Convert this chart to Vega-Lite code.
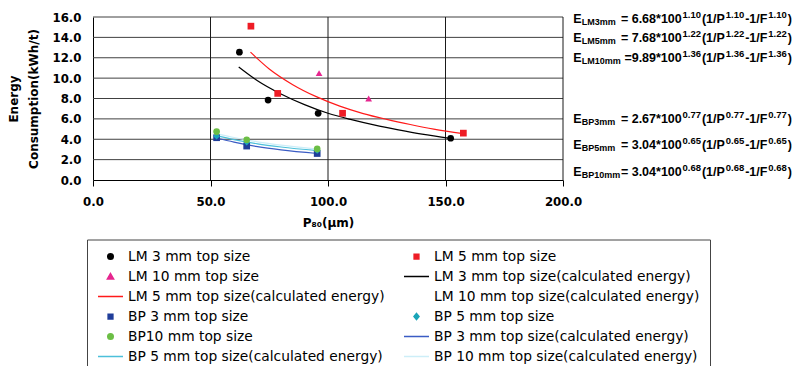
{
  "$schema": "https://vega.github.io/schema/vega-lite/v6.json",
  "width": 470,
  "height": 163,
  "autosize": {"type": "none"},
  "padding": {"left": 93, "top": 17, "right": 232, "bottom": 186},
  "background": "white",
  "config": {
    "view": {"stroke": null},
    "numberFormat": ".1f",
    "axis": {"grid": false, "domain": true, "domainColor": "#000", "labelFlush": false, "labelOverlap": false,
             "labelFont": "DejaVu Sans", "labelFontWeight": "bold", "labelFontSize": 11.75, "labelColor": "#000",
             "titleFont": "DejaVu Sans", "titleFontWeight": "bold", "titleFontSize": 12, "titleColor": "#000"},
    "axisX": {"ticks": true, "tickSize": 6, "tickColor": "#000", "labelPadding": 10, "titlePadding": 10},
    "axisY": {"ticks": false, "labelPadding": 12},
    "rule": {"strokeWidth": 1},
    "text": {"font": "Liberation Sans", "fontWeight": "bold", "color": "#000", "baseline": "alphabetic", "align": "left"}
  },
  "datasets": {
    "pts": [
      {"series": "LM 3 mm top size", "P": 62.3, "E": 12.55},
      {"series": "LM 3 mm top size", "P": 74.5, "E": 7.85},
      {"series": "LM 3 mm top size", "P": 95.8, "E": 6.55},
      {"series": "LM 3 mm top size", "P": 152.2, "E": 4.1},
      {"series": "LM 5 mm top size", "P": 67.2, "E": 15.1},
      {"series": "LM 5 mm top size", "P": 78.6, "E": 8.5},
      {"series": "LM 5 mm top size", "P": 106.2, "E": 6.55},
      {"series": "LM 5 mm top size", "P": 157.6, "E": 4.6},
      {"series": "LM 10 mm top size", "P": 96.2, "E": 10.5},
      {"series": "LM 10 mm top size", "P": 117.3, "E": 8.0},
      {"series": "BP 3 mm top size", "P": 52.6, "E": 4.15},
      {"series": "BP 3 mm top size", "P": 65.4, "E": 3.33},
      {"series": "BP 3 mm top size", "P": 95.4, "E": 2.6},
      {"series": "BP 5 mm top size", "P": 52.6, "E": 4.3},
      {"series": "BP 5 mm top size", "P": 65.4, "E": 3.72},
      {"series": "BP 5 mm top size", "P": 95.4, "E": 2.9},
      {"series": "BP10 mm top size", "P": 52.6, "E": 4.75},
      {"series": "BP10 mm top size", "P": 65.4, "E": 3.95},
      {"series": "BP10 mm top size", "P": 95.4, "E": 3.05}
    ],
    "lines": [
      {"series": "LM 3 mm top size(calculated energy)", "P": 62, "E": 11.1},
      {"series": "LM 3 mm top size(calculated energy)", "P": 70, "E": 9.75},
      {"series": "LM 3 mm top size(calculated energy)", "P": 80, "E": 8.45},
      {"series": "LM 3 mm top size(calculated energy)", "P": 90, "E": 7.4},
      {"series": "LM 3 mm top size(calculated energy)", "P": 100, "E": 6.55},
      {"series": "LM 3 mm top size(calculated energy)", "P": 110, "E": 5.92},
      {"series": "LM 3 mm top size(calculated energy)", "P": 120, "E": 5.38},
      {"series": "LM 3 mm top size(calculated energy)", "P": 130, "E": 4.92},
      {"series": "LM 3 mm top size(calculated energy)", "P": 140, "E": 4.5},
      {"series": "LM 3 mm top size(calculated energy)", "P": 152, "E": 4.08},
      {"series": "LM 5 mm top size(calculated energy)", "P": 67, "E": 12.55},
      {"series": "LM 5 mm top size(calculated energy)", "P": 75, "E": 10.9},
      {"series": "LM 5 mm top size(calculated energy)", "P": 85, "E": 9.36},
      {"series": "LM 5 mm top size(calculated energy)", "P": 95, "E": 8.18},
      {"series": "LM 5 mm top size(calculated energy)", "P": 105, "E": 7.25},
      {"series": "LM 5 mm top size(calculated energy)", "P": 115, "E": 6.52},
      {"series": "LM 5 mm top size(calculated energy)", "P": 125, "E": 5.95},
      {"series": "LM 5 mm top size(calculated energy)", "P": 135, "E": 5.45},
      {"series": "LM 5 mm top size(calculated energy)", "P": 145, "E": 5.0},
      {"series": "LM 5 mm top size(calculated energy)", "P": 157.5, "E": 4.55},
      {"series": "BP 3 mm top size(calculated energy)", "P": 52.5, "E": 4.12},
      {"series": "BP 3 mm top size(calculated energy)", "P": 60, "E": 3.72},
      {"series": "BP 3 mm top size(calculated energy)", "P": 70, "E": 3.27},
      {"series": "BP 3 mm top size(calculated energy)", "P": 80, "E": 2.95},
      {"series": "BP 3 mm top size(calculated energy)", "P": 95.5, "E": 2.6},
      {"series": "BP 5 mm top size(calculated energy)", "P": 52.5, "E": 4.35},
      {"series": "BP 5 mm top size(calculated energy)", "P": 60, "E": 3.97},
      {"series": "BP 5 mm top size(calculated energy)", "P": 70, "E": 3.55},
      {"series": "BP 5 mm top size(calculated energy)", "P": 80, "E": 3.24},
      {"series": "BP 5 mm top size(calculated energy)", "P": 95.5, "E": 2.88},
      {"series": "BP 10 mm top size(calculated energy)", "P": 52.5, "E": 4.55},
      {"series": "BP 10 mm top size(calculated energy)", "P": 60, "E": 4.17},
      {"series": "BP 10 mm top size(calculated energy)", "P": 70, "E": 3.75},
      {"series": "BP 10 mm top size(calculated energy)", "P": 80, "E": 3.42},
      {"series": "BP 10 mm top size(calculated energy)", "P": 95.5, "E": 3.03}
    ],
    "eqLM": [
      {"sub": ["LM3mm", "LM5mm", "LM10mm"], "mid": [" = 6.68*100", " = 7.68*100", "=9.89*100"], "exp": ["1.10", "1.22", "1.36"]}
    ],
    "eqBP": [
      {"sub": ["BP3mm", "BP5mm", "BP10mm"], "mid": [" = 2.67*100", " = 3.04*100", " = 3.04*100"], "exp": ["0.77", "0.65", "0.68"]}
    ]
  },
  "layer": [
    {"data": {"name": "eqLM"}, "mark": {"type": "rule", "color": "#404040"}, "encoding": {"y": {"datum": 2, "type": "quantitative"}}},
    {"data": {"name": "eqLM"}, "mark": {"type": "rule", "color": "#404040"}, "encoding": {"y": {"datum": 4, "type": "quantitative"}}},
    {"data": {"name": "eqLM"}, "mark": {"type": "rule", "color": "#404040"}, "encoding": {"y": {"datum": 6, "type": "quantitative"}}},
    {"data": {"name": "eqLM"}, "mark": {"type": "rule", "color": "#404040"}, "encoding": {"y": {"datum": 8, "type": "quantitative"}}},
    {"data": {"name": "eqLM"}, "mark": {"type": "rule", "color": "#404040"}, "encoding": {"y": {"datum": 10, "type": "quantitative"}}},
    {"data": {"name": "eqLM"}, "mark": {"type": "rule", "color": "#404040"}, "encoding": {"y": {"datum": 12, "type": "quantitative"}}},
    {"data": {"name": "eqLM"}, "mark": {"type": "rule", "color": "#404040"}, "encoding": {"y": {"datum": 14, "type": "quantitative"}}},
    {"data": {"name": "eqLM"}, "mark": {"type": "rule", "color": "#404040"}, "encoding": {"y": {"datum": 16, "type": "quantitative"}}},
    {"data": {"name": "eqLM"}, "mark": {"type": "rule", "color": "#1a1a1a"}, "encoding": {"x": {"datum": 50, "type": "quantitative"}}},
    {"data": {"name": "eqLM"}, "mark": {"type": "rule", "color": "#1a1a1a"}, "encoding": {"x": {"datum": 100, "type": "quantitative"}}},
    {"data": {"name": "eqLM"}, "mark": {"type": "rule", "color": "#1a1a1a"}, "encoding": {"x": {"datum": 150, "type": "quantitative"}}},
    {"data": {"name": "eqLM"}, "mark": {"type": "rule", "color": "#1a1a1a"}, "encoding": {"x": {"datum": 200, "type": "quantitative"}}},
    {
      "data": {"name": "lines"},
      "mark": {"type": "line", "interpolate": "monotone", "strokeWidth": 1.2},
      "encoding": {
        "x": {
          "field": "P", "type": "quantitative",
          "scale": {"domain": [0, 200], "nice": false},
          "axis": {"values": [0, 50, 100, 150, 200], "tickCount": 20, "format": ".1f", "title": "P₈₀(µm)"}
        },
        "y": {
          "field": "E", "type": "quantitative",
          "scale": {"domain": [0, 16], "nice": false},
          "axis": {
            "values": [0, 2, 4, 6, 8, 10, 12, 14, 16], "tickCount": 20, "format": ".1f",
            "title": ["Energy", "Consumption(kWh/t)"],
            "titleLineHeight": 20, "titleX": -85, "titleY": 81.5, "titleBaseline": "top", "titleAlign": "center", "titleAngle": -90
          }
        },
        "color": {
          "field": "series", "type": "nominal",
          "scale": {
            "domain": ["LM 3 mm top size", "LM 5 mm top size", "LM 10 mm top size", "LM 3 mm top size(calculated energy)", "LM 5 mm top size(calculated energy)", "LM 10 mm top size(calculated energy)", "BP 3 mm top size", "BP 5 mm top size", "BP10 mm top size", "BP 3 mm top size(calculated energy)", "BP 5 mm top size(calculated energy)", "BP 10 mm top size(calculated energy)"],
            "range": ["#000000", "#EE1C25", "#E6268F", "#000000", "#FF1A1A", "#FFFFFF", "#1F3D99", "#1BA5B8", "#6CBE45", "#3B5CC4", "#4CC0DA", "#CDEEF8"]
          },
          "legend": {
            "title": null, "orient": "none", "legendX": -6, "legendY": 222.5,
            "direction": "horizontal", "columns": 2, "columnPadding": 18, "rowPadding": 6,
            "padding": 10, "strokeColor": "#444", "fillColor": "white",
            "labelFont": "DejaVu Sans", "labelFontSize": 13.8, "labelColor": "#000", "labelLimit": 400, "labelOffset": 4,
            "symbolSize": 625, "symbolStrokeWidth": 1.5, "clipHeight": 14, "symbolOpacity": 1,
            "encode": {
              "symbols": {
                "update": {
                  "shape": [
                    {"test": "datum.value === 'LM 3 mm top size' || datum.value === 'BP10 mm top size'", "value": "M0.22,0A0.22,0.22,0,1,1,-0.22,0A0.22,0.22,0,1,1,0.22,0Z"},
                    {"test": "datum.value === 'LM 5 mm top size' || datum.value === 'BP 3 mm top size'", "value": "M-0.19,-0.19H0.19V0.19H-0.19Z"},
                    {"test": "datum.value === 'LM 10 mm top size'", "value": "M0,-0.24L0.25,0.2L-0.25,0.2Z"},
                    {"test": "datum.value === 'BP 5 mm top size'", "value": "M0,-0.24L0.2,0L0,0.24L-0.2,0Z"},
                    {"value": "stroke"}
                  ],
                  "fill": [
                    {"test": "indexof(datum.value, 'calculated') >= 0", "value": "transparent"},
                    {"scale": "color", "field": "value"}
                  ],
                  "stroke": {"scale": "color", "field": "value"},
                  "opacity": {"value": 1}
                }
              }
            }
          }
        }
      }
    },
    {
      "data": {"name": "pts"},
      "mark": {"type": "point", "filled": true, "opacity": 1, "size": 45},
      "encoding": {
        "x": {"field": "P", "type": "quantitative"},
        "y": {"field": "E", "type": "quantitative"},
        "color": {"field": "series", "type": "nominal"},
        "shape": {
          "field": "series", "type": "nominal",
          "scale": {
            "domain": ["LM 3 mm top size", "LM 5 mm top size", "LM 10 mm top size", "BP 3 mm top size", "BP 5 mm top size", "BP10 mm top size"],
            "range": ["circle", "square", "triangle-up", "square", "diamond", "circle"]
          },
          "legend": null
        }
      }
    },
    {"data": {"name": "eqLM"}, "mark": {"type": "text", "text": ["E", "E", "E"], "fontSize": 12.5, "lineHeight": 19.65},
     "encoding": {"x": {"datum": 204.4, "type": "quantitative"}, "y": {"datum": 15.44, "type": "quantitative"}}},
    {"data": {"name": "eqLM"}, "mark": {"type": "text", "fontSize": 9, "lineHeight": 19.65, "dx": 8.3, "dy": 2},
     "encoding": {"x": {"datum": 204.4, "type": "quantitative"}, "y": {"datum": 15.44, "type": "quantitative"}, "text": {"field": "sub", "type": "nominal"}}},
    {"data": {"name": "eqLM"}, "mark": {"type": "text", "align": "right", "fontSize": 12.5, "lineHeight": 19.65, "dx": 108.4},
     "encoding": {"x": {"datum": 204.4, "type": "quantitative"}, "y": {"datum": 15.44, "type": "quantitative"}, "text": {"field": "mid", "type": "nominal"}}},
    {"data": {"name": "eqLM"}, "mark": {"type": "text", "fontSize": 9.5, "lineHeight": 19.65, "dx": 109.2, "dy": -5},
     "encoding": {"x": {"datum": 204.4, "type": "quantitative"}, "y": {"datum": 15.44, "type": "quantitative"}, "text": {"field": "exp", "type": "nominal"}}},
    {"data": {"name": "eqLM"}, "mark": {"type": "text", "text": ["(1/P", "(1/P", "(1/P"], "fontSize": 12.5, "lineHeight": 19.65, "dx": 128.6},
     "encoding": {"x": {"datum": 204.4, "type": "quantitative"}, "y": {"datum": 15.44, "type": "quantitative"}}},
    {"data": {"name": "eqLM"}, "mark": {"type": "text", "fontSize": 9.5, "lineHeight": 19.65, "dx": 152.4, "dy": -5},
     "encoding": {"x": {"datum": 204.4, "type": "quantitative"}, "y": {"datum": 15.44, "type": "quantitative"}, "text": {"field": "exp", "type": "nominal"}}},
    {"data": {"name": "eqLM"}, "mark": {"type": "text", "text": ["-1/F", "-1/F", "-1/F"], "fontSize": 12.5, "lineHeight": 19.65, "dx": 171.8},
     "encoding": {"x": {"datum": 204.4, "type": "quantitative"}, "y": {"datum": 15.44, "type": "quantitative"}}},
    {"data": {"name": "eqLM"}, "mark": {"type": "text", "fontSize": 9.5, "lineHeight": 19.65, "dx": 194.9, "dy": -5},
     "encoding": {"x": {"datum": 204.4, "type": "quantitative"}, "y": {"datum": 15.44, "type": "quantitative"}, "text": {"field": "exp", "type": "nominal"}}},
    {"data": {"name": "eqLM"}, "mark": {"type": "text", "text": [")", ")", ")"], "fontSize": 12.5, "lineHeight": 19.65, "dx": 214.3},
     "encoding": {"x": {"datum": 204.4, "type": "quantitative"}, "y": {"datum": 15.44, "type": "quantitative"}}},
    {"data": {"name": "eqBP"}, "mark": {"type": "text", "text": ["E", "E", "E"], "fontSize": 12.5, "lineHeight": 26.65},
     "encoding": {"x": {"datum": 204.4, "type": "quantitative"}, "y": {"datum": 5.625, "type": "quantitative"}}},
    {"data": {"name": "eqBP"}, "mark": {"type": "text", "fontSize": 9, "lineHeight": 26.65, "dx": 8.3, "dy": 2},
     "encoding": {"x": {"datum": 204.4, "type": "quantitative"}, "y": {"datum": 5.625, "type": "quantitative"}, "text": {"field": "sub", "type": "nominal"}}},
    {"data": {"name": "eqBP"}, "mark": {"type": "text", "align": "right", "fontSize": 12.5, "lineHeight": 26.65, "dx": 108.4},
     "encoding": {"x": {"datum": 204.4, "type": "quantitative"}, "y": {"datum": 5.625, "type": "quantitative"}, "text": {"field": "mid", "type": "nominal"}}},
    {"data": {"name": "eqBP"}, "mark": {"type": "text", "fontSize": 9.5, "lineHeight": 26.65, "dx": 109.2, "dy": -5},
     "encoding": {"x": {"datum": 204.4, "type": "quantitative"}, "y": {"datum": 5.625, "type": "quantitative"}, "text": {"field": "exp", "type": "nominal"}}},
    {"data": {"name": "eqBP"}, "mark": {"type": "text", "text": ["(1/P", "(1/P", "(1/P"], "fontSize": 12.5, "lineHeight": 26.65, "dx": 128.6},
     "encoding": {"x": {"datum": 204.4, "type": "quantitative"}, "y": {"datum": 5.625, "type": "quantitative"}}},
    {"data": {"name": "eqBP"}, "mark": {"type": "text", "fontSize": 9.5, "lineHeight": 26.65, "dx": 152.4, "dy": -5},
     "encoding": {"x": {"datum": 204.4, "type": "quantitative"}, "y": {"datum": 5.625, "type": "quantitative"}, "text": {"field": "exp", "type": "nominal"}}},
    {"data": {"name": "eqBP"}, "mark": {"type": "text", "text": ["-1/F", "-1/F", "-1/F"], "fontSize": 12.5, "lineHeight": 26.65, "dx": 171.8},
     "encoding": {"x": {"datum": 204.4, "type": "quantitative"}, "y": {"datum": 5.625, "type": "quantitative"}}},
    {"data": {"name": "eqBP"}, "mark": {"type": "text", "fontSize": 9.5, "lineHeight": 26.65, "dx": 194.9, "dy": -5},
     "encoding": {"x": {"datum": 204.4, "type": "quantitative"}, "y": {"datum": 5.625, "type": "quantitative"}, "text": {"field": "exp", "type": "nominal"}}},
    {"data": {"name": "eqBP"}, "mark": {"type": "text", "text": [")", ")", ")"], "fontSize": 12.5, "lineHeight": 26.65, "dx": 214.3},
     "encoding": {"x": {"datum": 204.4, "type": "quantitative"}, "y": {"datum": 5.625, "type": "quantitative"}}}
  ]
}
